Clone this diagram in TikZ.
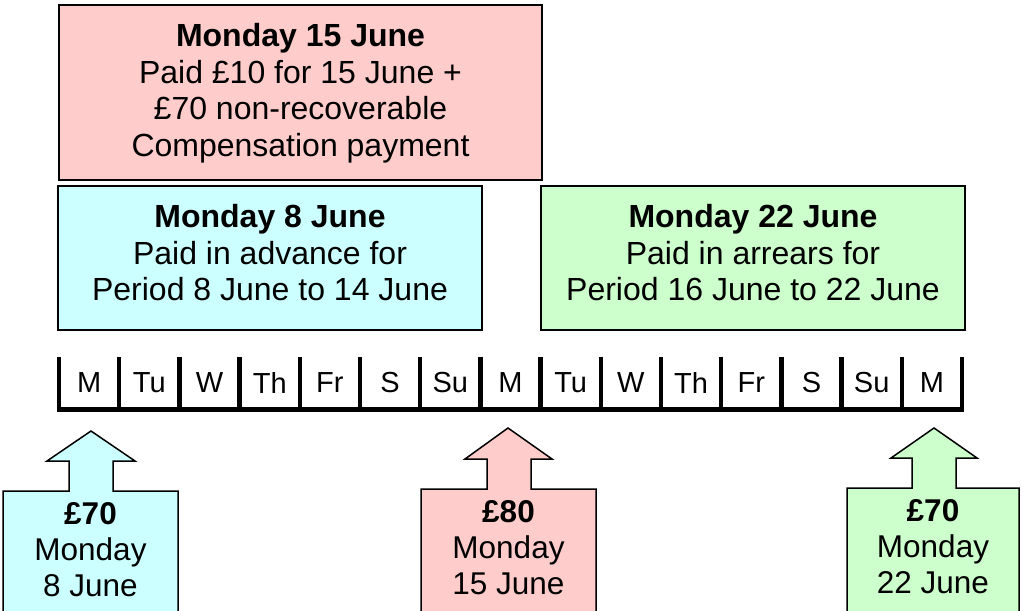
\documentclass[tikz,border=0pt]{standalone}
\usepackage{fontspec}
\setmainfont{Liberation Sans}
\definecolor{pinkc}{HTML}{FFCCCC}
\definecolor{cyanc}{HTML}{CCFFFF}
\definecolor{greenc}{HTML}{CCFFCC}
\begin{document}
\begin{tikzpicture}[x=1pt,y=-1pt,
  infobox/.style={draw=black, line width=1.5pt, inner sep=0pt},
  boxtext/.style={inner sep=0pt, align=center, font=\fontsize{32}{36.5}\selectfont},
  calltext/.style={inner sep=0pt, align=center, font=\fontsize{31.5}{36}\selectfont},
  callout/.style={draw=black, line width=1.5pt, line join=miter},
  tick/.style={line width=4.5pt},
  daylabel/.style={font=\fontsize{29}{32}\selectfont, inner sep=0pt}]
\clip (0,0) rectangle (1022,610);

% top boxes
\node[infobox, fill=pinkc, minimum width=483, minimum height=175] (top) at (300.5,92.5) {};
\node[boxtext] (toptext) at (300.5,93) 
  {\textbf{Monday 15 June}\\Paid £10 for 15 June +\\£70 non-recoverable\\Compensation payment};
\node[infobox, fill=cyanc, minimum width=424, minimum height=144] (adv) at (270,258) {};
\node[boxtext] (advtext) at (270,253)
  {\textbf{Monday 8 June}\\Paid in advance for\\Period 8 June to 14 June};
\node[infobox, fill=greenc, minimum width=424, minimum height=144] (arr) at (753,258) {};
\node[boxtext] (arrtext) at (753,253)
  {\textbf{Monday 22 June}\\Paid in arrears for\\Period 16 June to 22 June};

% timeline
\foreach \i in {0,...,15} {
  \coordinate (t\i) at ({59+60.2*\i},357);
  \coordinate (b\i) at ({59+60.2*\i},411);
  \draw[tick] (t\i) -- (b\i);
}
\draw[line width=5pt] (57,409) coordinate (lineL) -- (964,409) coordinate (lineR);
\foreach \d [count=\k from 0] in {M,Tu,W,Th,Fr,S,Su,M,Tu,W,Th,Fr,S,Su,M} {
  \node[daylabel] (d\k) at ({59+60.2*\k+30.1},383) {\d};
}

% callouts
\draw[callout, fill=cyanc] (3,615) -- (3,491) -- (69,491) -- (69,461) -- (47,461)
  -- (91,431) -- (135,461) -- (113,461) -- (113,491) -- (178,491) -- (178,615) -- cycle;
\node[calltext] (c1) at (90.5,550) {\textbf{£70}\\Monday\\8 June};

\draw[callout, fill=pinkc] (421,615) -- (421,489) -- (487,489) -- (487,459) -- (465,459)
  -- (508,428) -- (552,459) -- (531,459) -- (531,489) -- (596,489) -- (596,615) -- cycle;
\node[calltext] (c2) at (508.5,548) {\textbf{£80}\\Monday\\15 June};

\draw[callout, fill=greenc] (847,615) -- (847,488) -- (912,488) -- (912,458) -- (891,458)
  -- (934,428) -- (977,458) -- (956,458) -- (956,488) -- (1019,488) -- (1019,615) -- cycle;
\node[calltext] (c3) at (933,547) {\textbf{£70}\\Monday\\22 June};
\end{tikzpicture}
\end{document}
